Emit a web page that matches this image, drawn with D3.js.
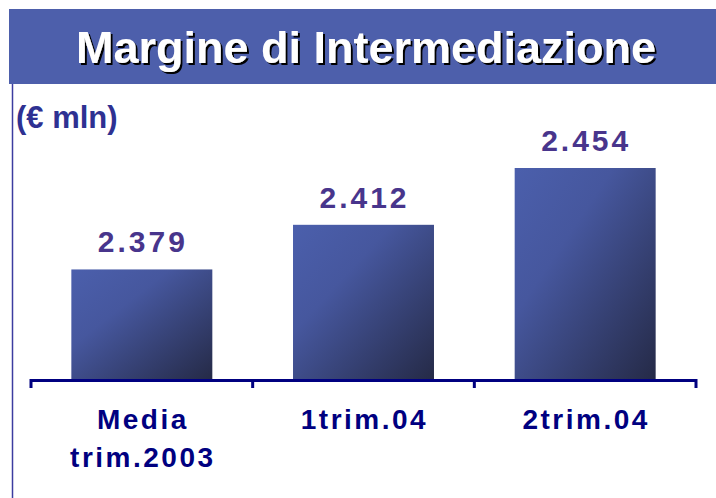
<!DOCTYPE html>
<html>
<head>
<meta charset="utf-8">
<script src="https://cdn.jsdelivr.net/npm/d3@7"></script>
<style>
  body { margin: 0; background: #fff; }
  svg { display: block; font-family: "Liberation Sans", Arial, sans-serif; }
</style>
</head>
<body>
<div id="chart"></div>
<script>
var title = "Margine di Intermediazione"
var unit = "(€ mln)"
var categories = [["Media", "trim.2003"], ["1trim.04"], ["2trim.04"]]
var values = [2379, 2412, 2454]
var valueLabels = ["2.379", "2.412", "2.454"]

var W = 716, H = 498
var margin = { top: 168, left: 31, right: 20, bottom: 118 }
var baseY = H - margin.bottom - 1

var svg = d3.select("#chart")
    .append("svg")
    .attr("width", W)
    .attr("height", H)

var defs = svg.append("defs")
var grad = defs.append("linearGradient")
    .attr("id", "barGrad")
    .attr("x1", 0).attr("y1", 0)
    .attr("x2", 1).attr("y2", 1)
grad.append("stop").attr("offset", "0%").attr("stop-color", "#4b5fac")
grad.append("stop").attr("offset", "35%").attr("stop-color", "#46579e")
grad.append("stop").attr("offset", "100%").attr("stop-color", "#252a47")

// hard shadow for the title
var shadow = defs.append("filter")
    .attr("id", "titleShadow")
    .attr("x", "-5%").attr("y", "-20%")
    .attr("width", "110%").attr("height", "140%")
shadow.append("feDropShadow")
    .attr("dx", 2).attr("dy", 2)
    .attr("stdDeviation", 0.3)
    .attr("flood-color", "#000")
    .attr("flood-opacity", 1)

// title bar
svg.append("rect")
    .attr("x", 9).attr("y", 9)
    .attr("width", W - 9).attr("height", 75)
    .attr("fill", "#4d5fab")

svg.append("text")
    .attr("x", 366).attr("y", 63)
    .attr("text-anchor", "middle")
    .style("font-size", "45px")
    .style("font-weight", "bold")
    .attr("fill", "#fff")
    .attr("filter", "url(#titleShadow)")
    .text(title)

// left rule
svg.append("line")
    .attr("x1", 12.5).attr("x2", 12.5)
    .attr("y1", 84).attr("y2", H)
    .attr("stroke", "#3c3ca0")
    .attr("stroke-width", 1.5)

svg.append("text")
    .attr("x", 16).attr("y", 128)
    .style("font-size", "31px")
    .style("font-weight", "bold")
    .attr("fill", "#2e3192")
    .text(unit)

var x = d3.scaleBand()
    .domain(d3.range(values.length))
    .range([margin.left, W - margin.right])
    .paddingInner(0.364)
    .paddingOuter(0.182)

var y = d3.scaleLinear()
    .domain([2298, 2454])
    .range([baseY, margin.top])

svg.selectAll(".bar")
    .data(values)
    .enter()
    .append("rect")
    .attr("class", "bar")
    .attr("x", function (d, i) { return x(i) })
    .attr("y", function (d) { return y(d) })
    .attr("width", x.bandwidth())
    .attr("height", function (d) { return baseY - y(d) })
    .attr("fill", "url(#barGrad)")

svg.selectAll(".val")
    .data(values)
    .enter()
    .append("text")
    .attr("class", "val")
    .attr("x", function (d, i) { return x(i) + x.bandwidth() / 2 + 1 })
    .attr("y", function (d) { return y(d) - 17 })
    .attr("text-anchor", "middle")
    .style("font-size", "30px")
    .style("font-weight", "bold")
    .style("letter-spacing", "3px")
    .attr("fill", "#48358c")
    .text(function (d, i) { return valueLabels[i] })

// x axis with ticks at the band boundaries
var axis = svg.append("g").attr("class", "axis")
axis.append("line")
    .attr("x1", margin.left).attr("x2", W - margin.right)
    .attr("y1", baseY + 1.5).attr("y2", baseY + 1.5)
    .attr("stroke", "#000080")
    .attr("stroke-width", 3)
axis.selectAll(".tick")
    .data(d3.range(values.length + 1))
    .enter()
    .append("line")
    .attr("class", "tick")
    .attr("x1", function (i) { return margin.left + i * x.step() })
    .attr("x2", function (i) { return margin.left + i * x.step() })
    .attr("y1", baseY)
    .attr("y2", baseY + 9)
    .attr("stroke", "#000080")
    .attr("stroke-width", 3)

var cat = svg.selectAll(".cat")
    .data(categories)
    .enter()
    .append("text")
    .attr("class", "cat")
    .attr("text-anchor", "middle")
    .style("font-size", "28px")
    .style("font-weight", "bold")
    .style("letter-spacing", "2.5px")
    .attr("fill", "#000080")

cat.selectAll("tspan")
    .data(function (d, i) { return d.map(function (s) { return { s: s, i: i } }) })
    .enter()
    .append("tspan")
    .attr("x", function (d) { return x(d.i) + x.bandwidth() / 2 + 1 })
    .attr("y", function (d, j) { return baseY + 50 + j * 38 })
    .text(function (d) { return d.s })
</script>
</body>
</html>
